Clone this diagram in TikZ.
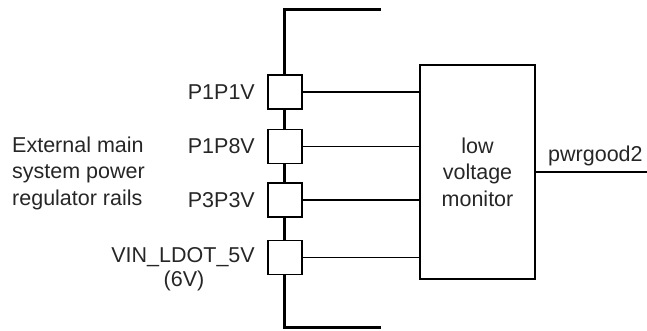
\documentclass[tikz,border=0pt]{standalone}
\usepackage{fontspec}
\setmainfont{Liberation Sans}
\usetikzlibrary{positioning}
\tikzset{
  tap/.style={draw, fill=white, line width=1.2pt, minimum size=34pt, inner sep=0pt},
  monbox/.style={draw, line width=2pt, minimum width=115pt, minimum height=214pt, align=center, inner sep=0pt},
  rail/.style={line width=3pt},
  wire/.style={line width=1.2pt},
  lbl/.style={inner sep=0pt, anchor=east}
}
\begin{document}
\begin{tikzpicture}[x=1pt, y=-1pt, font=\fontsize{21.5}{26.5}\selectfont, text=black!85]
	\useasboundingbox (0,0) rectangle (647,330);
	% --- 1. Tọa độ các điểm ---
	\coordinate (RT) at (381,9);   % đầu trên của thanh
	\coordinate (RB) at (381,327); % đầu dưới của thanh
	\coordinate (OUT) at (647,172);
	
	% --- 2. Thanh nguồn (nét đậm) ---
	\draw[rail] (RT) -- (284,9) -- (284,327) -- (RB);
	
	% --- 3. Các ô và khối giám sát ---
	\node[tap] (s1) at (285,92) {};
	\node[tap] (s2) at (285,146.5) {};
	\node[tap] (s3) at (285,200) {};
	\node[tap] (s4) at (285,257.5) {};
	\node[monbox] (mon) at (477.5,172) {low\\voltage\\monitor};
	
	% --- 4. Dây nối ---
	\foreach \s in {s1,s2,s3,s4}
		\draw[wire] (\s.east) -- (\s.east -| mon.west);
	\draw[wire] (mon.east |- OUT) -- (OUT);
	
	% --- 5. Nhãn ---
	\node[lbl] (l1) at (255,92) {P1P1V};
	\node[lbl] (l2) at (255,146.5) {P1P8V};
	\node[lbl] (l3) at (255,200) {P3P3V};
	\node[lbl] (l4) at (255,257.5) {VIN\_LDOT\_5V};
	\node[inner sep=0pt] (l5) at (184,281) {(6V)};
	\node[align=left, inner sep=0pt, anchor=west] (ext) at (12,173) {External main\\system power\\regulator rails};
	\node[inner sep=0pt, anchor=base west] (pg) at (548,161) {pwrgood2};
\end{tikzpicture}
\end{document}
